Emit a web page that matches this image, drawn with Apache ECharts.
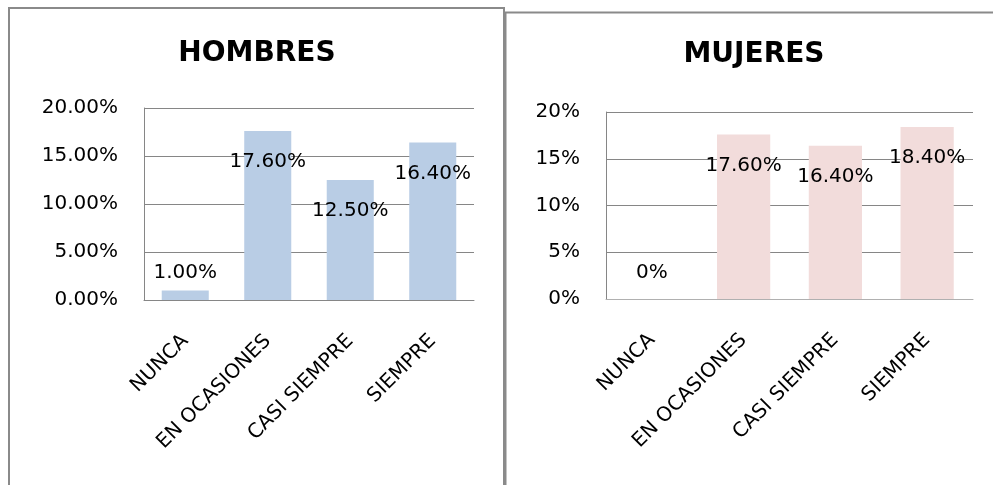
<!DOCTYPE html>
<html>
<head>
<meta charset="utf-8">
<script src="https://cdn.jsdelivr.net/npm/echarts@6/dist/echarts.min.js"></script>
<style>
html,body{margin:0;padding:0;background:#fff;}
#c{width:993px;height:485px;}
</style>
</head>
<body>
<div id="c"></div>
<script>
var categories = ['NUNCA', 'EN OCASIONES', 'CASI SIEMPRE', 'SIEMPRE'];
var hombresValues = [1.0, 17.6, 12.5, 16.4];
var mujeresValues = [0, 17.6, 16.4, 18.4];
var yTicksAxis = [0, 5, 10, 15, 20];
var titles = ['HOMBRES', 'MUJERES'];

var FONT = 'DejaVu Sans';
var chart = echarts.init(document.getElementById('c'), null, {renderer: 'canvas'});

function buildData(values, lowDist) {
  return values.map(function (v) {
    var low = v < 5;
    return {
      value: v,
      label: low ? {position: 'top', distance: lowDist} : {position: 'insideTop', distance: 21}
    };
  });
}

var yMax = yTicksAxis[yTicksAxis.length - 1];
var yStep = yTicksAxis[1] - yTicksAxis[0];

function fmtLeft(v) { return Number(v).toFixed(2) + '%'; }
function fmtRight(v) { return Math.round(v) + '%'; }
function fmtRightLabel(v) { return v === 0 ? '0%' : Number(v).toFixed(2) + '%'; }

var axisCommon = {
  axisLine: {show: true, lineStyle: {color: '#868686', width: 1}},
  axisTick: {show: false},
  splitLine: {show: true, lineStyle: {color: '#868686', width: 1}},
  axisLabel: {color: '#000', fontFamily: FONT, fontSize: 20, margin: 26}
};

var option = {
  backgroundColor: '#fff',
  animation: false,
  graphic: [
    {type: 'rect', shape: {x: 9, y: 8, width: 495, height: 500}, style: {fill: 'none', stroke: '#8a8a8a', lineWidth: 2}},
    {type: 'rect', shape: {x: 505.5, y: 12.5, width: 500, height: 500}, style: {fill: 'none', stroke: '#8a8a8a', lineWidth: 2}}
  ],
  title: [
    {text: titles[0], left: 252, top: 35, textAlign: 'center', textStyle: {fontFamily: FONT, fontWeight: 'bold', fontSize: 28, color: '#000'}},
    {text: titles[1], left: 749, top: 36, textAlign: 'center', textStyle: {fontFamily: FONT, fontWeight: 'bold', fontSize: 28, color: '#000'}}
  ],
  grid: [
    {left: 144, right: 519, top: 108, bottom: 185},
    {left: 606, right: 20, top: 112, bottom: 186}
  ],
  xAxis: [0, 1].map(function (i) {
    return {
      type: 'category', gridIndex: i, data: categories,
      axisLine: {show: true, lineStyle: {color: i === 0 ? '#868686' : '#b0b0b0', width: 1}},
      axisTick: {show: false},
      axisLabel: {color: '#000', fontFamily: FONT, fontSize: 20, rotate: 45, margin: 38, interval: 0}
    };
  }),
  yAxis: [0, 1].map(function (i) {
    var a = JSON.parse(JSON.stringify(axisCommon));
    a.type = 'value';
    a.gridIndex = i;
    a.min = 0;
    a.max = yMax;
    a.interval = yStep;
    a.axisLabel.formatter = i === 0 ? fmtLeft : fmtRight;
    return a;
  }),
  series: [
    {
      type: 'bar', xAxisIndex: 0, yAxisIndex: 0, barWidth: '57%',
      itemStyle: {color: '#B9CDE5'},
      label: {show: true, color: '#000', fontFamily: FONT, fontSize: 20, formatter: function (p) { return fmtLeft(p.value); }},
      data: buildData(hombresValues, 8)
    },
    {
      type: 'bar', xAxisIndex: 1, yAxisIndex: 1, barWidth: '58%',
      itemStyle: {color: '#F2DCDB'},
      label: {show: true, color: '#000', fontFamily: FONT, fontSize: 20, formatter: function (p) { return fmtRightLabel(p.value); }},
      data: buildData(mujeresValues, 16)
    }
  ]
};
chart.setOption(option);
</script>
</body>
</html>
